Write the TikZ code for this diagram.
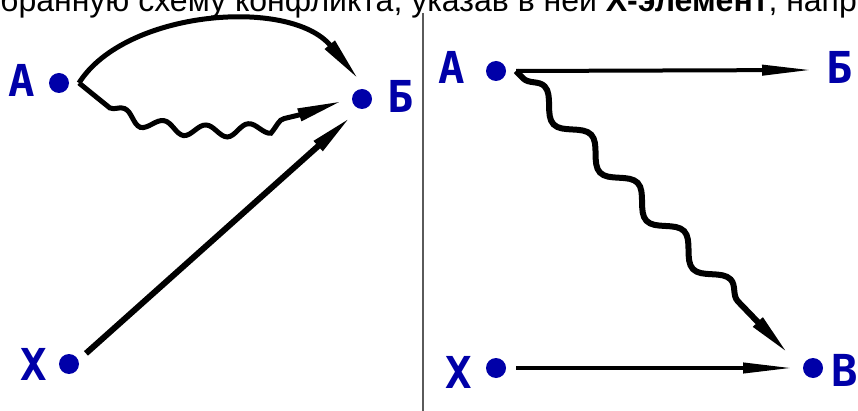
\documentclass[tikz,border=0pt]{standalone}
\usepackage{fontspec}
\setmainfont{Liberation Sans}
\newfontfamily\pixfont{DejaVu Sans Mono}
\definecolor{pixblue}{RGB}{0,0,168}
\definecolor{rulegray}{RGB}{90,90,90}
\usetikzlibrary{arrows.meta,positioning,decorations.pathmorphing}

\begin{document}
\begin{tikzpicture}[x=1pt,y=-1pt,
    dot/.style={circle, fill=pixblue, minimum size=20pt, inner sep=0pt, outer sep=10pt},
    letter/.style={text=pixblue, font=\pixfont\bfseries\fontsize{44}{44}\selectfont, inner sep=0pt, outer sep=0pt},
    conn/.style={line width=5pt, -{Triangle[length=45pt,width=12pt]}},
    flat/.style={line width=4pt, -{Triangle[length=50pt,width=10pt]}}]
\clip (0,0) rectangle (858,411);

% cut-off line of the task text
\node[anchor=base west, inner sep=0pt, font=\fontsize{32}{32}\selectfont] (hdr) at (0,12)
    {бранную схему конфликта, указав в ней \textbf{Х-элемент}, напр};
\draw[rulegray, line width=2pt] (423,13) -- (423,411);

% left scheme
\node[dot] (lA) at (59,83) {};
\node[dot] (lB) at (362,99) {};
\node[dot] (lX) at (69,364) {};
\node[letter, left=4pt of lA, yshift=3pt] {А};
\node[letter, right=5pt of lB, yshift=3pt] {Б};
\node[letter, left=2pt of lX] {Х};

\draw[conn] (lA.east) .. controls (125,10) and (290,-3) .. (lB.100);
\draw[conn, decorate, decoration={snake, amplitude=6pt, segment length=43pt, pre length=40pt, post length=45pt}]
    (lA.east) .. controls (120,140) and (260,135) .. (lB.186);
\draw[conn, line width=6pt] (lX.32) -- (lB.239);

% right scheme
\node[dot] (rA) at (496,71) {};
\coordinate (rB) at (812,70);
\node[dot] (rX) at (496,368) {};
\node[dot] (rV) at (813,368) {};
\node[letter, left=11pt of rA, yshift=4pt] {А};
\node[letter, right=14pt of rB, yshift=3pt] {Б};
\node[letter, left=4pt of rX, yshift=-4pt] {Х};
\node[letter, right=-2pt of rV, yshift=-2pt] {В};

\draw[flat] (rA.east) -- (rB);
\draw[flat] (rX.east) -- (rV.west);
\draw[conn, line width=6pt, shorten >=8pt, decorate, decoration={snake, amplitude=10pt, segment length=67pt, pre length=10pt, post length=55pt}]
    (rA.east) -- (rV.157);
\end{tikzpicture}
\end{document}
